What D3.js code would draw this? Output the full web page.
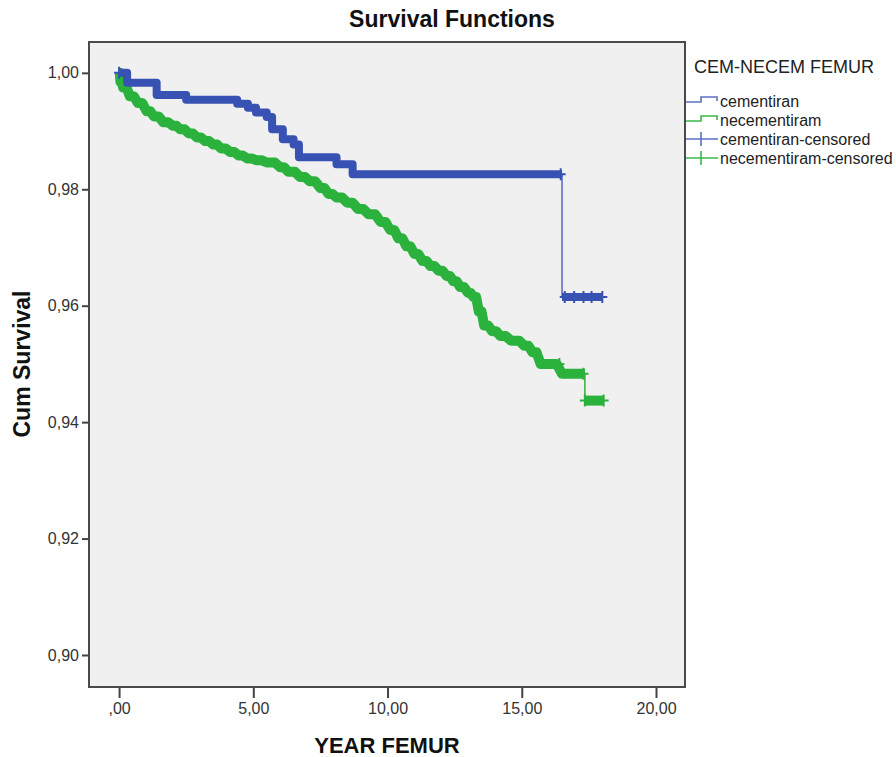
<!DOCTYPE html>
<html>
<head>
<meta charset="utf-8">
<script src="https://cdn.jsdelivr.net/npm/d3@7/dist/d3.min.js"></script>
<style>
  body { margin: 0; background: #ffffff; }
  svg { display: block; font-family: "Liberation Sans", Arial, sans-serif; }
</style>
</head>
<body>
<svg id="chart" width="896" height="757"></svg>
<script>
// ---- data ----
const seriesNames = ["cementiran", "necementiram"];
const legendLabels = ["cementiran", "necementiram", "cementiran-censored", "necementiram-censored"];

// cementiran: [time, cum survival] step points
const cemTimes = [0, 0.3, 1.4, 2.5, 4.4, 4.8, 5.1, 5.5, 5.7, 6.1, 6.5, 6.7, 8.1, 8.7, 16.5, 18.0];
const cemSurv  = [1.0, 0.9983, 0.9962, 0.9954, 0.9947, 0.9940, 0.9932, 0.9924, 0.9903, 0.9886, 0.9877, 0.9855, 0.9843, 0.9826, 0.9615, 0.9615];

// necementiram: [time, cum survival] step points
const necTimes = [0, 0.05, 0.15, 0.4, 0.7, 1.03, 1.3, 1.65, 2.0, 2.28, 2.6, 2.9, 3.2, 3.5, 3.8, 4.14, 4.45, 4.77, 5.1, 5.5, 6.0, 6.3, 6.75, 7.1, 7.5, 7.8, 8.1, 8.5, 8.9, 9.3, 9.74, 10.1, 10.4, 10.7, 11.0, 11.3, 11.6, 11.9, 12.2, 12.45, 12.7, 13.0, 13.2, 13.4, 13.6, 13.9, 14.2, 14.6, 15.1, 15.4, 15.7, 16.5, 17.35, 18.05];
const necSurv  = [1.0, 0.9985, 0.9975, 0.9960, 0.9948, 0.9934, 0.9925, 0.9915, 0.9909, 0.9903, 0.9896, 0.9889, 0.9883, 0.9877, 0.9870, 0.9864, 0.9858, 0.9853, 0.9850, 0.9846, 0.9838, 0.9830, 0.9821, 0.9814, 0.9802, 0.9792, 0.9786, 0.9777, 0.9766, 0.9757, 0.9744, 0.9730, 0.9716, 0.9702, 0.9689, 0.9677, 0.9668, 0.9660, 0.9651, 0.9642, 0.9632, 0.9622, 0.9615, 0.9590, 0.9566, 0.9556, 0.9548, 0.9540, 0.9531, 0.9520, 0.9500, 0.9483, 0.9437, 0.9437];

// individually visible censor marks
const cemCensorTimes = [0, 16.45, 16.6, 16.95, 17.3, 17.6, 18.0];
const necCensorTimes = [16.4, 17.3, 17.35, 18.05];

const xTickValues = [0, 5, 10, 15, 20];
const xTickLabels = [",00", "5,00", "10,00", "15,00", "20,00"];
const yTickValues = [0.90, 0.92, 0.94, 0.96, 0.98, 1.00];
const yTickLabels = ["0,90", "0,92", "0,94", "0,96", "0,98", "1,00"];

// ---- layout ----
const svg = d3.select("#chart");
const L = 89, R = 685, T = 42, B = 687;
const x = d3.scaleLinear().domain([-1.12, 21.08]).range([L, R]);
const y = d3.scaleLinear().domain([0.8945, 1.0053]).range([B, T]);

const colors = {
  cemBand: "#3852b3", cemLine: "#5d70c6",
  necBand: "#2bb23d", necLine: "#3cb84b"
};

// plot background
svg.append("rect").attr("x", L).attr("y", T).attr("width", R - L).attr("height", B - T)
  .attr("fill", "#f0f0f0");

// axes
const yAxis = d3.axisLeft(y).tickValues(yTickValues)
  .tickFormat((d, i) => yTickLabels[i]).tickSize(7).tickPadding(3);
const gy = svg.append("g").attr("transform", `translate(${L},0)`).call(yAxis);
gy.select(".domain").remove();
gy.selectAll("line").attr("stroke", "#444").attr("stroke-width", 2);
gy.selectAll("text").attr("font-size", 16).attr("fill", "#333")
  .attr("font-family", "'Liberation Sans', Arial, sans-serif");

const xAxis = d3.axisBottom(x).tickValues(xTickValues)
  .tickFormat((d, i) => xTickLabels[i]).tickSize(10).tickPadding(5);
const gx = svg.append("g").attr("transform", `translate(0,${B + 1})`).call(xAxis);
gx.select(".domain").remove();
gx.selectAll("line").attr("stroke", "#444").attr("stroke-width", 2);
gx.selectAll("text").attr("font-size", 16).attr("fill", "#333")
  .attr("font-family", "'Liberation Sans', Arial, sans-serif");

// frame
svg.append("rect").attr("x", L).attr("y", T).attr("width", R - L).attr("height", B - T)
  .attr("fill", "none").attr("stroke", "#4a4a4a").attr("stroke-width", 2);

// ---- curves ----
const plot = svg.append("g");
function drawSeries(times, surv, bandColor, lineColor, bandWidth, censorTimes, smooth) {
  const pts = times.map((t, i) => [t, surv[i]]);
  // thin step line for the whole function
  const line = d3.line().x(d => x(d[0])).y(d => y(d[1])).curve(d3.curveStepAfter);
  const lin = d3.line().x(d => x(d[0])).y(d => y(d[1]));
  plot.append("path").datum(pts).attr("d", line)
    .attr("fill", "none").attr("stroke", lineColor).attr("stroke-width", 1.6);
  // dense censoring band: split into runs at large drops
  const runs = [];
  let cur = [pts[0]];
  for (let i = 1; i < pts.length; i++) {
    if (pts[i - 1][1] - pts[i][1] > 0.003) {
      cur.push([pts[i][0], pts[i - 1][1]]);
      runs.push(cur);
      cur = [pts[i]];
    } else cur.push(pts[i]);
  }
  runs.push(cur);
  runs.forEach(r => {
    if (r.length < 2) return;
    let d;
    if (smooth) {
      // plateaus held flat, small steps softened (dense events look continuous)
      const bp = [];
      for (let i = 0; i < r.length; i++) {
        bp.push(r[i]);
        if (i < r.length - 1) {
          const gap = r[i + 1][0] - r[i][0];
          bp.push([r[i + 1][0] - Math.min(0.2, gap * 0.5), r[i][1]]);
        }
      }
      d = lin(bp);
    } else d = line(r);
    plot.append("path").attr("d", d)
      .attr("fill", "none").attr("stroke", bandColor)
      .attr("stroke-width", bandWidth).attr("stroke-linejoin", "round");
  });
  // censor marks "+"
  const stepVal = t => {
    let v = surv[0];
    for (let i = 0; i < times.length; i++) if (times[i] <= t) v = surv[i];
    return v;
  };
  censorTimes.forEach(t => {
    const cx = x(t), cy = y(stepVal(t));
    plot.append("path")
      .attr("d", `M${cx - 5},${cy}H${cx + 5}M${cx},${cy - 6}V${cy + 6}`)
      .attr("stroke", bandColor).attr("stroke-width", 2);
  });
}
drawSeries(necTimes, necSurv, colors.necBand, colors.necLine, 10, necCensorTimes, true);
drawSeries(cemTimes, cemSurv, colors.cemBand, colors.cemLine, 8, cemCensorTimes, false);

// ---- titles ----
svg.append("text").attr("x", 452).attr("y", 27).attr("text-anchor", "middle")
  .attr("font-size", 23).attr("font-weight", "bold").attr("fill", "#111")
  .text("Survival Functions");
svg.append("text").attr("x", 387).attr("y", 753).attr("text-anchor", "middle")
  .attr("font-size", 22).attr("font-weight", "bold").attr("fill", "#111")
  .text("YEAR FEMUR");
svg.append("text").attr("transform", "translate(30,364) rotate(-90)").attr("text-anchor", "middle")
  .attr("font-size", 23).attr("font-weight", "bold").attr("fill", "#111")
  .text("Cum Survival");

// ---- legend ----
const lg = svg.append("g");
lg.append("text").attr("x", 694).attr("y", 73).attr("font-size", 18).attr("fill", "#222")
  .text("CEM-NECEM FEMUR");
const legendColors = [colors.cemLine, colors.necLine, colors.cemLine, colors.necLine];
const legendY = [101, 120, 139, 158];
legendLabels.forEach((lab, i) => {
  const cy = legendY[i];
  if (i < 2) {
    lg.append("path").attr("d", `M686,${cy + 1}H701V${cy - 4}H717V${cy}`)
      .attr("fill", "none").attr("stroke", legendColors[i]).attr("stroke-width", 1.6);
  } else {
    lg.append("path").attr("d", `M686,${cy}H718M701,${cy - 7}V${cy + 7}`)
      .attr("fill", "none").attr("stroke", legendColors[i]).attr("stroke-width", 1.6);
  }
  lg.append("text").attr("x", 720).attr("y", cy + 5.5).attr("font-size", 16).attr("fill", "#222")
    .text(lab);
});
</script>
</body>
</html>
